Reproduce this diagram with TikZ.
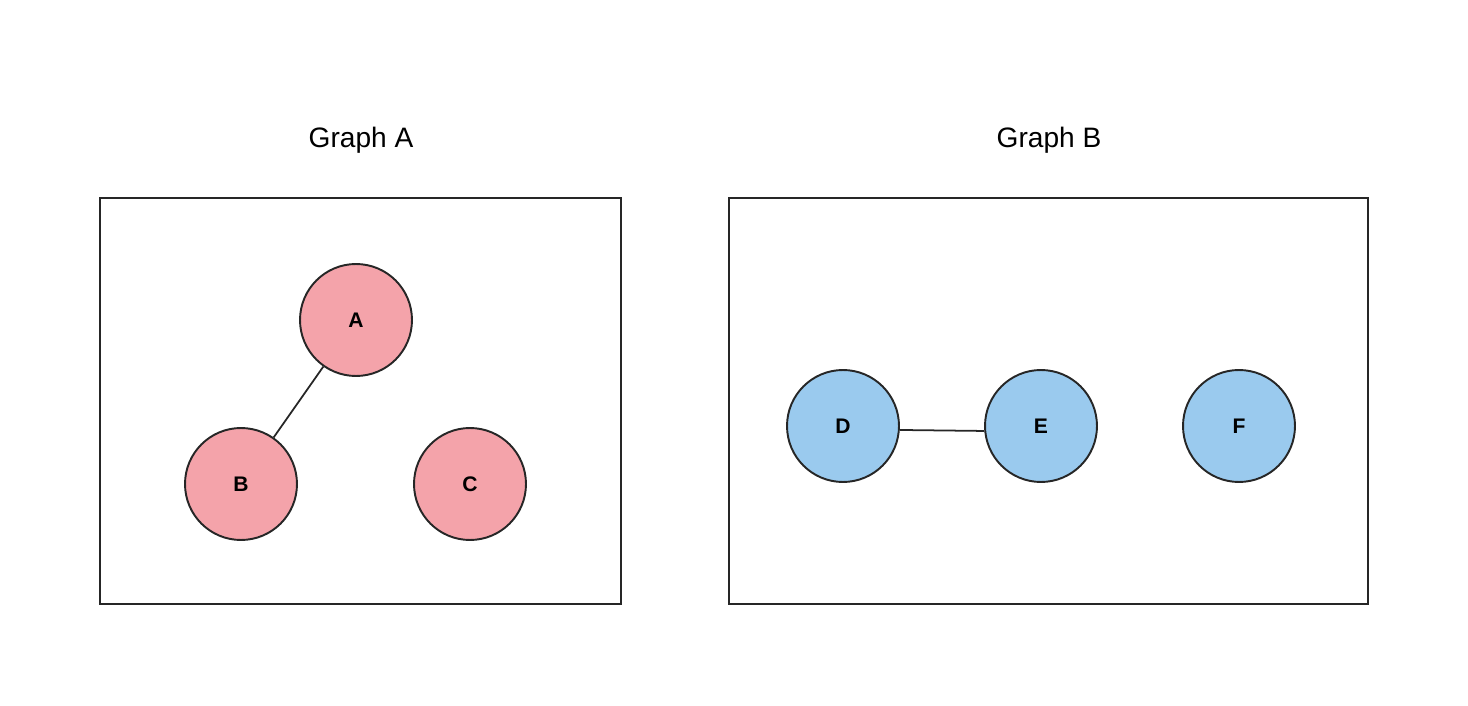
\documentclass[tikz,border=0pt]{standalone}
\usepackage{fontspec}
\setmainfont{Liberation Sans}
\begin{document}
\begin{tikzpicture}[x=0.02cm,y=-0.02cm,
  panel/.style={draw=black!85,line width=1.1pt},
  title/.style={font=\fontsize{16}{19}\selectfont},
  vertex/.style={circle,draw=black!85,line width=1.1pt,minimum size=2.24cm,inner sep=0pt,font=\fontsize{12}{14}\selectfont\bfseries},
  pinkv/.style={vertex,fill=pinkfill},
  bluev/.style={vertex,fill=bluefill},
  link/.style={draw=black!85,line width=1pt}]
\definecolor{pinkfill}{HTML}{F4A3AA}
\definecolor{bluefill}{HTML}{9ACAEE}
\useasboundingbox (0,0) rectangle (1468,706);
% panels
\draw[panel] (100,198) rectangle (621,604);
\draw[panel] (729,198) rectangle (1368,604);
\node[title] (tA) at (361,140) {Graph A};
\node[title] (tB) at (1049,140) {Graph B};
% graph A
\node[pinkv] (A) at (356,320) {A};
\node[pinkv] (B) at (241,484) {B};
\node[pinkv] (C) at (470,484) {C};
\draw[link] (A) -- (B);
% graph B
\node[bluev] (D) at (843,426) {D};
\node[bluev] (E) at (1041,426) {E};
\node[bluev] (F) at (1239,426) {F};
\draw[link] (D.-4) -- (E.185);
\end{tikzpicture}
\end{document}
